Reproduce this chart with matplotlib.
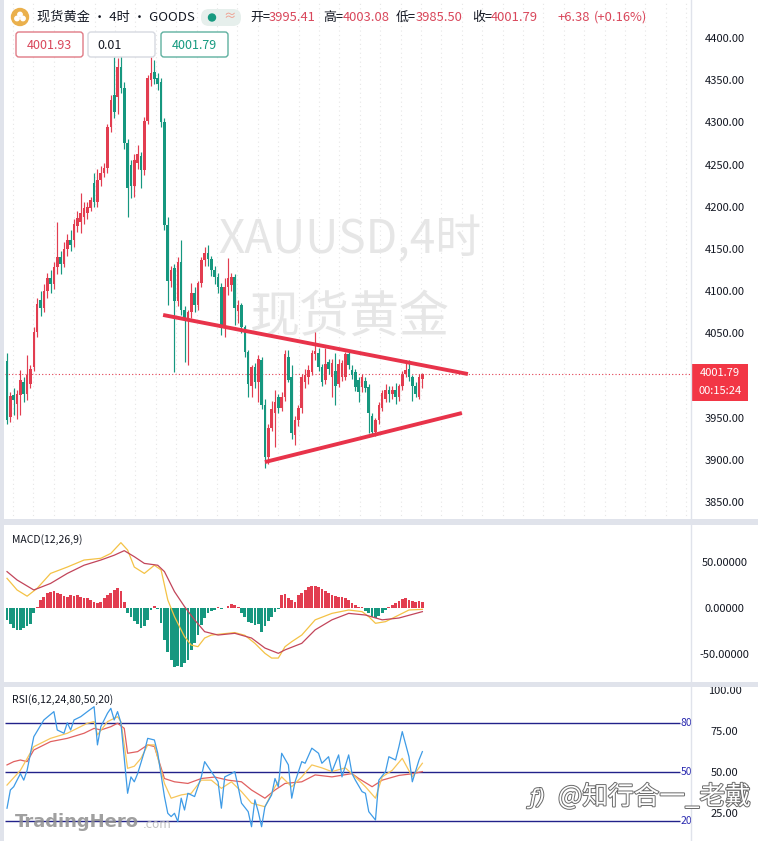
import matplotlib
matplotlib.use('Agg')
import matplotlib.pyplot as plt
import matplotlib.patches as patches
import matplotlib.patheffects as pe
import numpy as np

plt.rcParams['font.family'] = ['Noto Sans CJK SC', 'DejaVu Sans']

W, H = 758, 841
RED = '#e23d50'
GREEN = '#16977f'

# ---- 4h candles ----
opens = [4017, 3951, 3977, 3966, 3977, 3992, 3978, 3990, 4010, 4052,
         4090, 4080, 4100, 4115, 4108, 4128, 4140, 4132, 4150, 4160,
         4160, 4177, 4182, 4188, 4193, 4199, 4228, 4205, 4232, 4240,
         4246, 4294, 4332, 4330, 4366, 4341, 4275, 4250, 4225, 4252,
         4260, 4243, 4302, 4350, 4360, 4352, 4348, 4300, 4178, 4112,
         4127, 4088, 4134, 4078, 4068, 4075, 4098, 4083, 4110, 4137,
         4145, 4138, 4125, 4117, 4105, 4058, 4105, 4107, 4117, 4076,
         4083, 4057, 4028, 3988, 4010, 3992, 4018, 3965, 3903, 3938,
         3955, 3974, 3962, 3975, 4022, 3998, 3930, 3947, 3961, 3992,
         3998, 4004, 4025, 4027, 4010, 3995, 4016, 3998, 4005, 3990,
         3998, 3998, 4025, 4007, 4004, 3995, 3986, 3993, 3986, 3952,
         3933, 3947, 3962, 3972, 3983, 3978, 3983, 3975, 3987, 4002,
         4008, 3998, 3988, 3975, 3995.41]
highs = [4027, 3980, 3985, 3983, 4006, 3998, 4024, 4012, 4058, 4092,
         4100, 4108, 4122, 4125, 4135, 4182, 4148, 4158, 4168, 4172,
         4186, 4195, 4216, 4206, 4205, 4212, 4240, 4245, 4248, 4252,
         4298, 4332, 4377, 4376, 4380, 4348, 4280, 4255, 4262, 4273,
         4265, 4306, 4356, 4377, 4374, 4358, 4352, 4305, 4188, 4130,
         4132, 4140, 4161, 4082, 4078, 4110, 4105, 4112, 4140, 4152,
         4155, 4142, 4130, 4122, 4110, 4115, 4139, 4122, 4120, 4090,
         4086, 4060, 4030, 4012, 4015, 4024, 4022, 3972, 3942, 3970,
         3983, 3978, 3980, 4030, 4030, 4012, 3952, 3965, 4002, 4008,
         4012, 4030, 4051, 4032, 4014, 4033, 4020, 4020, 4027, 4020,
         4018, 4028, 4030, 4012, 4008, 3998, 4002, 3998, 3990, 3956,
         3950, 3968, 3983, 3990, 3988, 3988, 3991, 3990, 4005, 4018,
         4018, 4000, 3992, 4002, 4003.08]
lows = [3942, 3945, 3953, 3948, 3953, 3968, 3971, 3985, 4005, 4045,
        4070, 4075, 4092, 4098, 4102, 4120, 4120, 4128, 4142, 4148,
        4152, 4170, 4169, 4180, 4185, 4195, 4200, 4200, 4225, 4235,
        4240, 4288, 4305, 4310, 4335, 4268, 4188, 4210, 4212, 4245,
        4222, 4238, 4298, 4343, 4345, 4338, 4295, 4172, 4083, 4105,
        4004, 4082, 4072, 4016, 4012, 4068, 4075, 4078, 4105, 4130,
        4130, 4118, 4108, 4098, 4048, 4045, 4095, 4100, 4060, 4062,
        4050, 4022, 3975, 3975, 3985, 3968, 3960, 3890, 3895, 3934,
        3915, 3955, 3958, 3970, 3992, 3925, 3917, 3940, 3955, 3985,
        3990, 4000, 4018, 4005, 3988, 3990, 4002, 3975, 3965, 3986,
        3994, 3995, 4008, 3996, 3982, 3968, 3980, 3980, 3932, 3929,
        3928, 3943, 3958, 3968, 3968, 3972, 3966, 3970, 3983, 3998,
        3994, 3970, 3975, 3972, 3985.50]
closes = [3947, 3976, 3971, 3978, 3995, 3978, 4000, 4008, 4052, 4085,
          4080, 4100, 4115, 4108, 4128, 4140, 4132, 4150, 4160, 4155,
          4180, 4187, 4193, 4198, 4200, 4208, 4205, 4232, 4240, 4246,
          4294, 4326, 4312, 4366, 4341, 4275, 4222, 4225, 4255, 4262,
          4243, 4302, 4352, 4358, 4351, 4346, 4300, 4178, 4112, 4125,
          4088, 4134, 4078, 4068, 4075, 4098, 4083, 4110, 4137, 4145,
          4138, 4125, 4117, 4105, 4058, 4105, 4115, 4117, 4080, 4083,
          4057, 4028, 3990, 4010, 3992, 4020, 3965, 3903, 3938, 3960,
          3968, 3962, 3975, 4025, 3995, 3932, 3947, 3961, 3998, 4001,
          4006, 4027, 4029, 4010, 3992, 4014, 4008, 4015, 3988, 4013,
          4015, 4025, 4012, 4000, 3986, 3980, 3998, 3985, 3956, 3933,
          3947, 3965, 3979, 3983, 3978, 3983, 3974, 3987, 4002, 4006,
          3998, 3988, 3978, 3998, 4001.79]

# ---- MACD(12,26,9) ----
macd_hist = [-13, -18, -22, -24, -24, -22, -20, -18, -6, 1,
             9, 12.5, 16, 18, 19, 17, 15, 13, 12.5, 14,
             13, 14, 12.5, 10.5, 10.5, 9, 7, 5, 7, 10.5,
             14, 17, 20, 21.5, 19, 7,
             -6, -10, -14, -18, -22, -20, -13, -2, 2, -1,
             -17, -35, -48, -57, -65, -64, -65, -60, -57, -46,
             -39, -30, -19, -11, -6, -3, -2,
             1, -1.5, 0.5, 2, 4.5, 3, 1,
             -6, -10, -15, -17, -19, -18, -26, -20, -14, -10, -4,
             -1,
             14, 15, 11, 9, 7, 14, 17, 20, 23, 24,
             24, 23, 21, 19, 16, 14, 13, 12.5, 12, 10.5,
             9, 5, 3, 1.5, 0.7, -3, -6, -9.5, -11, -9,
             -5, -2, 1.5, 3.3, 6, 8, 9.5, 10.5, 9, 8,
             7, 8, 7]
dif_idx = [0, 3, 6, 9, 13, 18, 23, 28, 31, 34, 36, 38, 41, 44, 46, 48, 50,
           53, 55, 57, 59, 61, 68, 71, 74, 77, 79, 81, 83, 85, 88, 92, 97,
           102, 106, 108, 110, 113, 117, 120, 124]
dif_vals = [32.6, 19.8, 13, 21.6, 38, 45, 52.7, 54.6, 60, 71.8, 63.7, 45,
            38, 47, 41.8, 8.8, -9.5, -31.5, -40.7, -42.5, -33, -29.7, -27,
            -30, -38.8, -49.8, -55, -55, -42.5, -37, -29.7, -13, -5.9, -2.2,
            -4, -9.5, -16.8, -15, -7.7, -2.2, -1.5]
dea_idx = [0, 3, 8, 13, 18, 23, 28, 32, 35, 38, 41, 45, 47, 50, 53, 56, 59,
           63, 68, 73, 77, 81, 83, 88, 92, 97, 102, 107, 112, 117, 124]
dea_vals = [40, 30.8, 19.8, 27, 38, 47, 52.7, 58, 63, 56.4, 49, 47, 40, 18,
            1.5, -13, -26, -29.7, -27.8, -33, -44, -49.8, -46, -38.8, -24,
            -13, -5.9, -7.7, -13, -11, -4]

# ---- RSI(6,12,24) ----
rsi6_idx = [0, 1, 2, 4, 5, 6, 8, 11, 14, 15, 17, 18, 19, 20, 22, 24, 26, 27,
            28, 30, 31, 32, 33, 34, 36, 37, 38, 39, 41, 42, 44, 45, 47, 48,
            49, 50, 51, 52, 53, 54, 56, 58, 59, 61, 63, 64, 65, 67, 68, 69,
            70, 72, 73, 74, 75, 76, 77, 79, 80, 81, 82, 84, 85, 86, 88, 89,
            91, 93, 94, 96, 97, 99, 100, 102, 103, 104, 106, 107, 108, 110,
            111, 113, 114, 116, 117, 118, 120, 121, 123, 124]
rsi6_vals = [27.9, 39, 41, 49, 45, 51, 71.5, 81.7, 86.8, 75.6, 73.6, 80,
             75.6, 81.7, 83.7, 86.8, 89.8, 66.5, 77.6, 85.8, 88.8, 81.7,
             86.8, 80, 37, 47, 44, 49, 62.4, 70.5, 69.5, 61.4, 35, 24.8,
             22.8, 24.8, 19.7, 34, 26.8, 37, 35, 47, 56.3, 50.2, 44, 27.9,
             47, 49, 50.2, 41, 31, 25.8, 16.6, 33, 25.8, 16.6, 28.8, 36, 46,
             41, 61.4, 54.3, 34, 44, 56.3, 55.3, 64.5, 61.4, 55.3, 59.3,
             50.2, 60.4, 47, 60.4, 49, 45, 38, 37, 25.8, 20.7, 45, 50.2,
             59.3, 57.3, 65.4, 74.6, 59.3, 44, 57.3, 62.4]
rsi12_idx = [0, 4, 8, 13, 18, 24, 26, 27, 30, 33, 34, 36, 38, 40, 42, 44, 47,
             49, 52, 55, 58, 61, 64, 67, 70, 73, 77, 80, 82, 85, 88, 91, 94,
             97, 101, 104, 107, 110, 112, 115, 118, 121, 124]
rsi12_vals = [42, 51, 65.4, 70.5, 73.6, 79.7, 80.7, 72.6, 80.7, 83.7, 80.7,
              52.2, 53.5, 58.3, 66.5, 66.5, 43, 34, 36, 37, 45, 45, 40, 44,
              38, 31, 28.8, 41, 47, 41, 47, 54.3, 52.5, 50.2, 52.5, 47, 41,
              34, 47, 51, 58.3, 47, 55.3]
rsi24_idx = [0, 2, 4, 6, 8, 13, 18, 23, 26, 28, 31, 33, 35, 36, 39, 42, 44,
             47, 50, 54, 58, 62, 66, 70, 73, 77, 80, 83, 88, 92, 97, 103, 105,
             109, 112, 117, 121, 124]
rsi24_vals = [54.3, 56.3, 57.3, 56.3, 63.4, 68.5, 70.5, 73.6, 76.6, 75.6,
              77.6, 79.7, 76.6, 61.4, 62.4, 66.5, 65.5, 46, 44, 43, 46, 46.9,
              45, 44, 39, 34, 39, 43, 44, 48.2, 47, 49, 46, 41, 45, 47.9,
              48.9, 50.2]

# 4000.00 is hidden under the last-price label in the original
price_ticks = [4400, 4350, 4300, 4250, 4200, 4150, 4100, 4050, 3950, 3900, 3850]
macd_ticks = [50, 0, -50]
rsi_ticks = [100, 75, 50, 25]
rsi_levels = [80, 50, 20]
last_price = 4001.79

# trend lines drawn on the chart (candle index, price)
upper_x, upper_y = [46.6, 137.6], [4071.7, 4001.7]
lower_x, lower_y = [77.0, 135.8], [3897.4, 3955.5]

fig = plt.figure(figsize=(W / 100, H / 100), dpi=100, facecolor='white')

# overlay in pixel coordinates for frame, header and labels
ov = fig.add_axes([0, 0, 1, 1], zorder=10)
ov.set_xlim(0, W)
ov.set_ylim(H, 0)
ov.axis('off')
ov.patch.set_alpha(0)
pix = ov.transData


def px_axes(top, bottom):
    a = fig.add_axes([5 / W, 1 - bottom / H, 685 / W, (bottom - top) / H])
    a.set_xlim(-0.6, 203.9)
    a.set_xticks([])
    for s in a.spines.values():
        s.set_visible(False)
    a.yaxis.tick_right()
    a.tick_params(axis='y', length=0, pad=25, labelsize=8, labelcolor='#131722')
    return a


ax = px_axes(0, 520)
ax_m = px_axes(526, 683)
ax_r = px_axes(688, 841)
ax.set_ylim(3828.7, 4445.0)
ax_m.set_ylim(-82.4, 90.1)
ax_r.set_ylim(7.9, 101.2)

ax.set_yticks(price_ticks)
ax.set_yticklabels([f'{v:.2f}' for v in price_ticks])
ax_m.set_yticks(macd_ticks)
ax_m.set_yticklabels([f'{v:.5f}' for v in macd_ticks])
ax_r.set_yticks(rsi_ticks)
ax_r.set_yticklabels([f'{v:.2f}' for v in rsi_ticks])
for a in (ax, ax_m, ax_r):
    for lbl in a.get_yticklabels():
        lbl.set_horizontalalignment('center')

# ---- main chart ----
for gx in np.arange(1.8, 204, 6.09):
    ax.axvline(gx, color='#e6e6e6', lw=0.8, ls=(0, (1, 3)), zorder=0)

ax.text(350, 240, 'XAUUSD,4时', transform=pix, ha='center', va='center',
        fontsize=33, color='#e6e6e6', zorder=0)
ax.text(350, 318, '现货黄金', transform=pix, ha='center', va='center',
        fontsize=36, color='#e6e6e6', zorder=0)

idx = np.arange(len(closes))
o = np.array(opens)
c = np.array(closes)
cols = np.where(c >= o, RED, GREEN)
ax.vlines(idx, lows, highs, colors=cols, lw=0.85, zorder=2)
ax.bar(idx, np.maximum(np.abs(c - o), 1.0), bottom=np.minimum(o, c),
       width=0.78, color=cols, zorder=3)

ax.axhline(last_price, color=RED, lw=0.8, ls=(0, (1, 2)), zorder=1)
ax.plot(upper_x, upper_y, color='#e8334a', lw=2.8, solid_capstyle='butt', zorder=4)
ax.plot(lower_x, lower_y, color='#e8334a', lw=2.8, solid_capstyle='butt', zorder=4)

# ---- MACD ----
h = np.array(macd_hist)
ax_m.bar(idx, h, width=0.82, color=np.where(h >= 0, RED, GREEN), zorder=2)
ax_m.plot(dif_idx, dif_vals, color='#f4c245', lw=0.9, zorder=3)
ax_m.plot(dea_idx, dea_vals, color='#c2455a', lw=0.9, zorder=3)
ax_m.text(12, 540, 'MACD(12,26,9)', transform=pix, fontsize=7.5, va='center',
          color='#131722')

# ---- RSI ----
for lv in rsi_levels:
    ax_r.hlines(lv, -0.6, 200.9, color='#22228a', lw=1.0, zorder=1)
    ax_r.text(201.2, lv, str(lv), fontsize=7.5, color='#2a2ab0', va='center',
              ha='left')
ax_r.plot(rsi24_idx, rsi24_vals, color='#e06060', lw=0.9, zorder=3)
ax_r.plot(rsi12_idx, rsi12_vals, color='#f7c65a', lw=0.9, zorder=3)
ax_r.plot(rsi6_idx, rsi6_vals, color='#3e9be6', lw=0.9, zorder=4)
ax_r.text(12, 700, 'RSI(6,12,24,80,50,20)', transform=pix, fontsize=7.5,
          va='center', color='#131722')

# ---- frame ----
ov.add_patch(patches.Rectangle((0, 519), W, 6, color='#e0e3eb', lw=0))
ov.add_patch(patches.Rectangle((0, 682), W, 5, color='#e0e3eb', lw=0))
ov.add_patch(patches.Rectangle((0, 0), 4, H, color='#e0e3eb', lw=0))
ov.plot([691, 691], [0, H], color='#e0e3eb', lw=1)

# price label on the axis
ov.add_patch(patches.Rectangle((691, 364), 57, 37, color='#f23645', lw=0))
ov.text(720, 373, '4001.79', color='white', fontsize=8, ha='center', va='center')
ov.text(720, 391, '00:15:24', color='white', fontsize=8, ha='center', va='center')

# ---- header ----
ov.add_patch(patches.Circle((20, 17), 8.5, color='#eab04c'))
for dx, dy in [(-3, 1.5), (3, 1.5), (0, -2.5)]:
    ov.add_patch(patches.Circle((20 + dx, 17 + dy), 2.2, color='white'))
ov.text(37, 17, '现货黄金 · 4时 · GOODS', fontsize=9.5, va='center', color='#131722')
ov.add_patch(patches.FancyBboxPatch((201, 9), 40, 17, boxstyle='round,pad=0,rounding_size=8',
                                    fc='#e6efec', ec='none'))
ov.add_patch(patches.Circle((212, 17.5), 3.5, color='#169a80'))
ov.text(230, 17, '≈', fontsize=9, ha='center', va='center', color='#f09a8a')

VAL = '#d9475b'
hdr = [(250, '开=', '#131722'), (269, '3995.41', VAL), (323, '高=', '#131722'),
       (343, '4003.08', VAL), (396, '低=', '#131722'), (416, '3985.50', VAL),
       (472, '收=', '#131722'), (491, '4001.79', VAL), (557, '+6.38', VAL),
       (594, '(+0.16%)', VAL)]
for x0, s, col in hdr:
    ov.text(x0, 17, s, fontsize=9.3, va='center', color=col)

boxes = [((16, 32), 67, 25, '#e07a85', '4001.93', '#d9475b', 'center'),
         ((88, 32), 67, 25, '#d6d9e0', '0.01', '#131722', 'left'),
         ((161, 32), 67, 25, '#5fb0a0', '4001.79', '#169a80', 'center')]
for (bx, by), bw, bh, ec, s, tc, al in boxes:
    ov.add_patch(patches.FancyBboxPatch((bx, by), bw, bh,
                                        boxstyle='round,pad=0,rounding_size=3',
                                        fc='white', ec=ec, lw=1))
    tx = bx + bw / 2 if al == 'center' else bx + 9
    ov.text(tx, by + bh / 2 + 1, s, fontsize=9, ha=al, va='center', color=tc)

# ---- watermarks ----
ov.text(15, 822, 'TradingHero', fontsize=13, fontweight='bold', family='DejaVu Sans',
        color='#8f8f8f', alpha=0.85, va='center')
ov.text(143, 825, '.com', fontsize=8.5, family='DejaVu Sans', color='#b5b5b5',
        alpha=0.85, va='center')
outline = [pe.Stroke(linewidth=1.4, foreground='#6a6a6a'), pe.Normal()]
ov.text(530, 798, 'ƒ)', fontsize=15, style='italic', family='DejaVu Sans',
        color='white', va='center', path_effects=outline)
ov.text(558, 797, '@知行合一_老戴', fontsize=18.5, color='white', va='center',
        path_effects=outline)

fig.savefig('out.png', dpi=100, facecolor='white')
